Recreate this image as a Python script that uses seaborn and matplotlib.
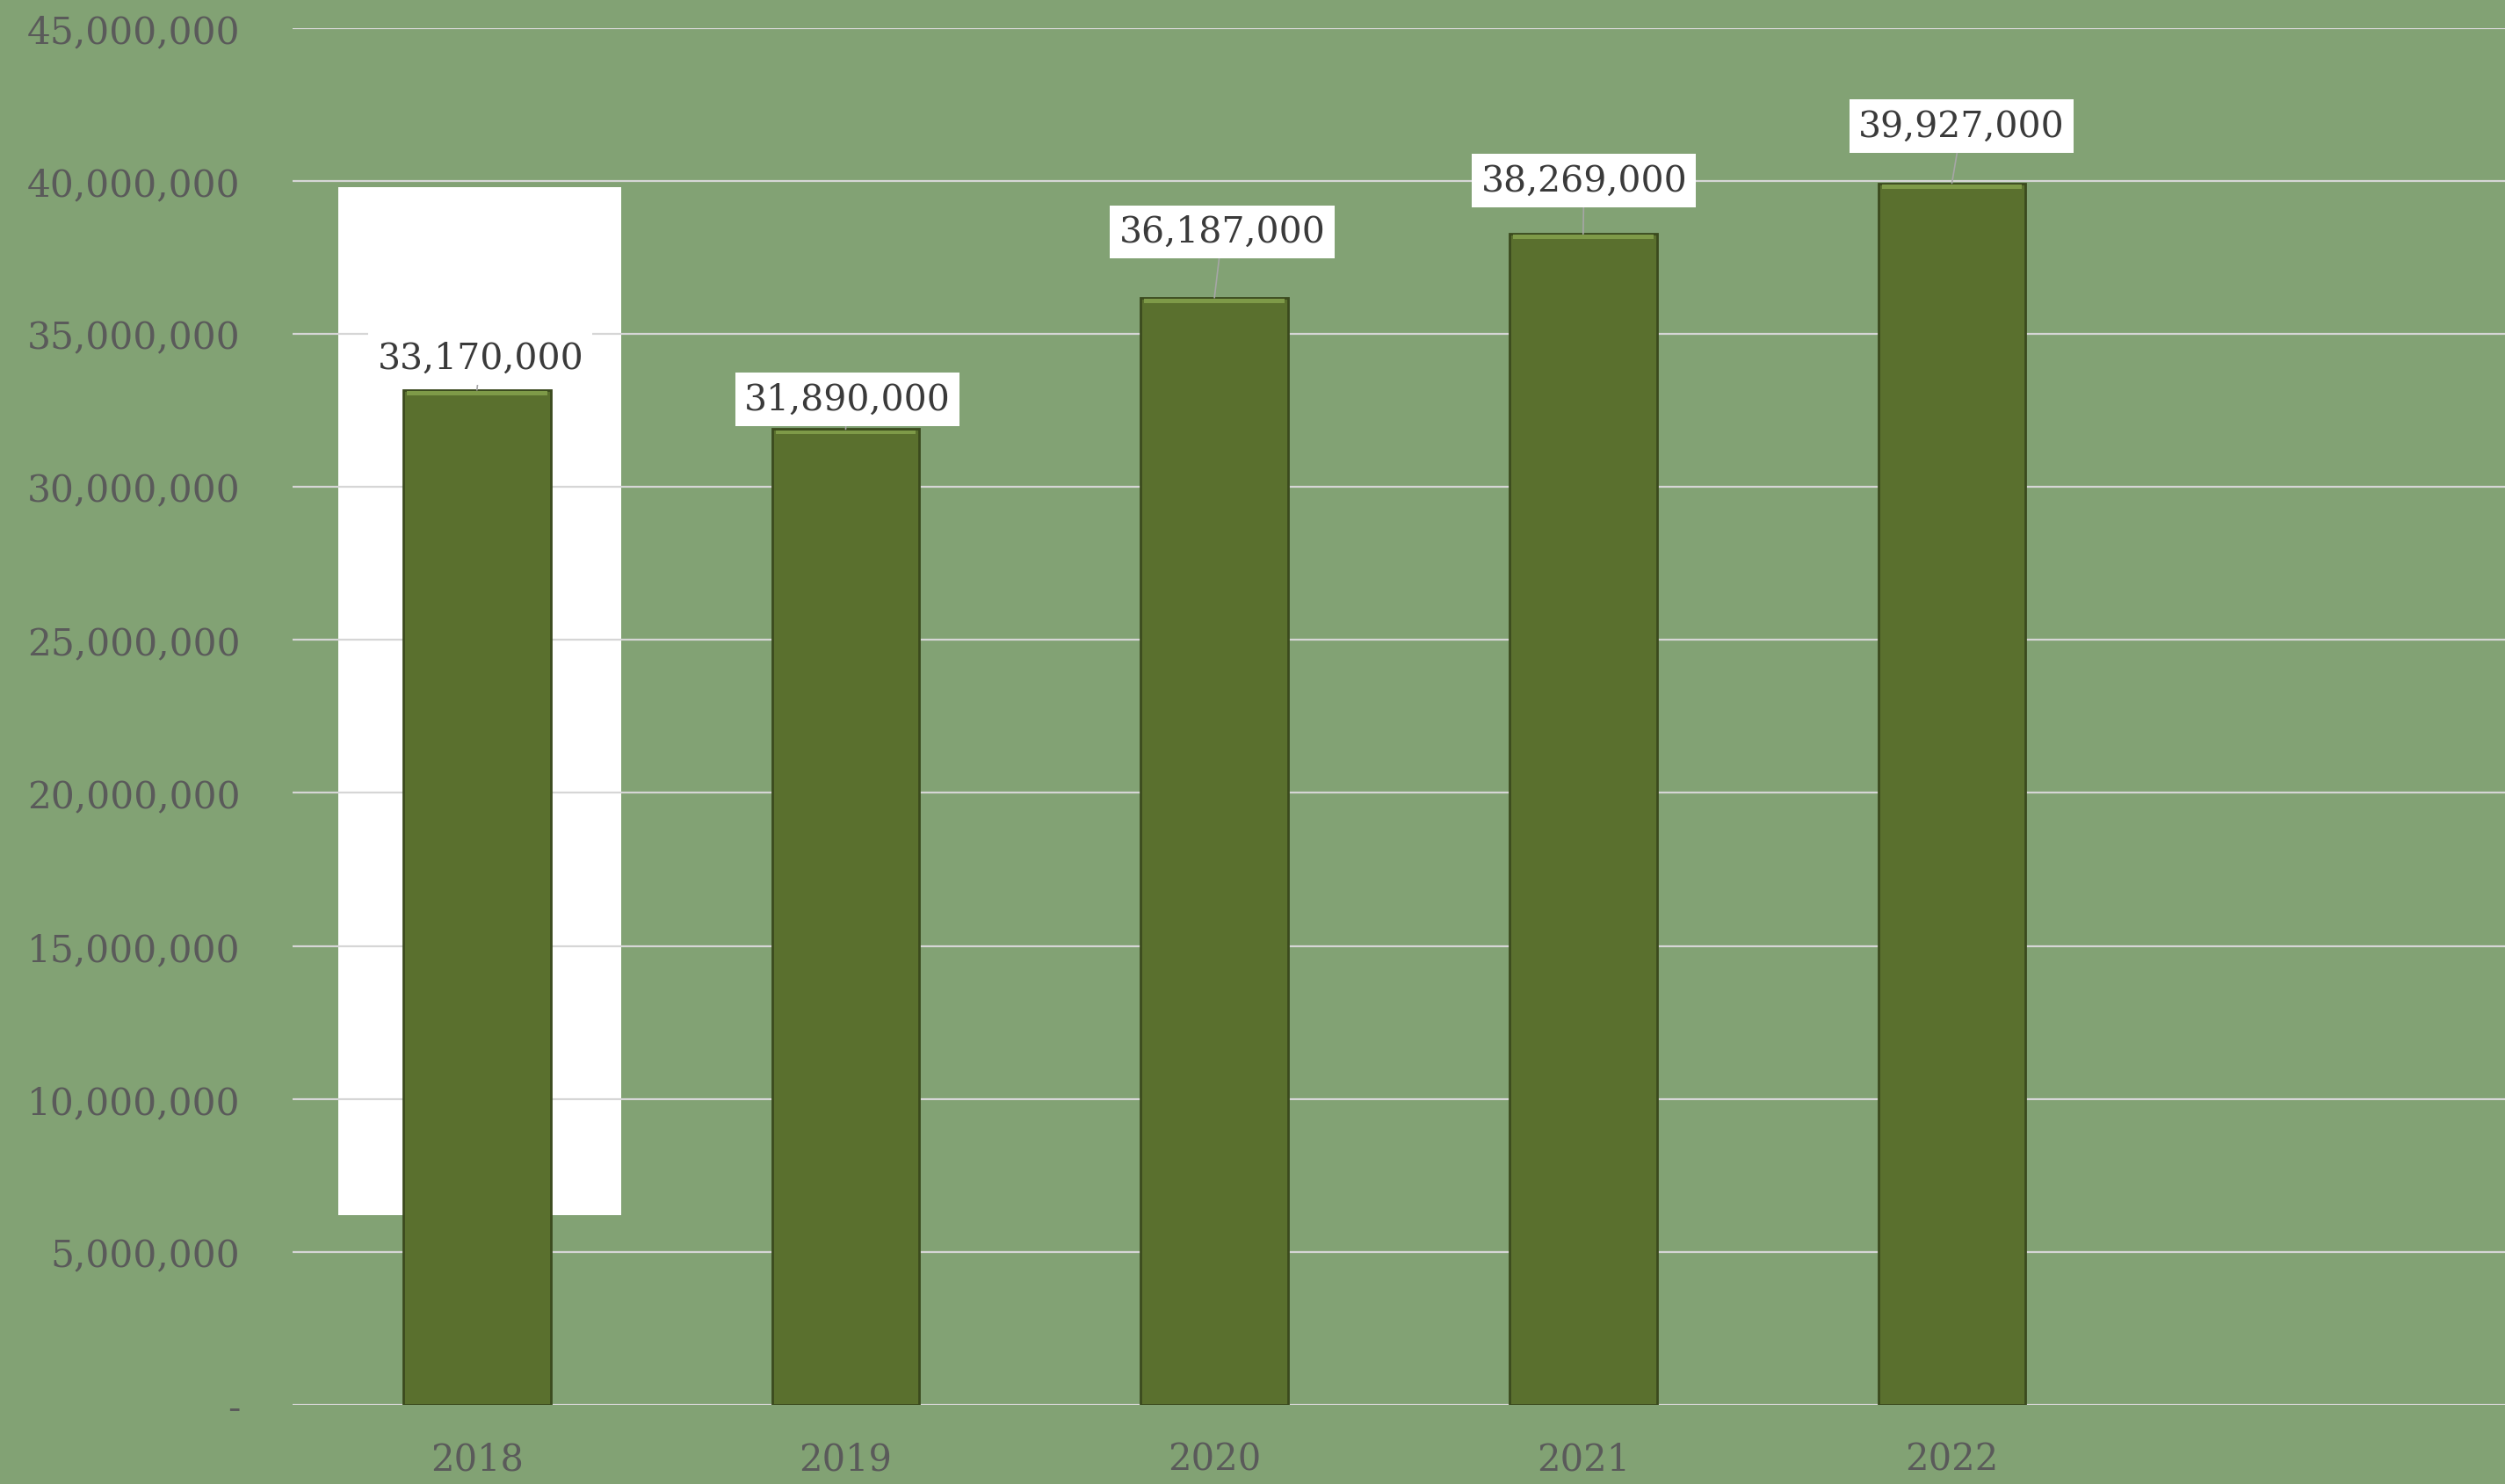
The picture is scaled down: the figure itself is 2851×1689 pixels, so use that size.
import matplotlib
matplotlib.use('Agg')
import matplotlib.pyplot as plt
import matplotlib.ticker as mticker
from matplotlib.patches import Rectangle
import seaborn as sns

# data
years = ['2018', '2019', '2020', '2021', '2022']
values = [33170000, 31890000, 36187000, 38269000, 39927000]

# label box offsets from bar top (pixels)
label_offsets = [(4, 36), (2, 34), (9, 75), (1, 61), (11, 65)]

bg = '#82a274'
bar_color = '#5a702e'

sns.set_theme(style='whitegrid')
plt.rcParams['font.family'] = ['DejaVu Serif', 'Liberation Serif']

fig = plt.figure(figsize=(28.51, 16.90), dpi=100, facecolor=bg)
ax = fig.add_axes([0.1168, 0.0533, 0.8832, 0.9272])
ax.set_facecolor(bg)

sns.barplot(x=years, y=values, color=bar_color, saturation=1, width=0.4,
            edgecolor='#3b4a1e', linewidth=2, ax=ax, zorder=3)

# light bevel on top of each bar
for p in list(ax.patches):
    x0, w, top = p.get_x(), p.get_width(), p.get_height()
    ax.add_patch(Rectangle((x0 + 0.01, top - 170000), w - 0.02, 140000,
                           facecolor='#7e9a48', edgecolor='none', zorder=3.5))

# white block behind first bar
ax.add_patch(Rectangle((-0.375, 6.2e6), 0.765, 33.6e6, facecolor='white',
                       edgecolor='none', zorder=0.4))

ax.set_xlim(-0.5, 5.5)
ax.set_ylim(0, 45000000)
ax.yaxis.set_major_locator(mticker.MultipleLocator(5000000))
ax.yaxis.set_major_formatter(mticker.FuncFormatter(
    lambda v, p: '-' if v == 0 else f'{v:,.0f}'))

ax.set_axisbelow(True)
ax.yaxis.grid(True, color='#d6d6d6', linewidth=1.6)
ax.xaxis.grid(False)
for s in ax.spines.values():
    s.set_visible(False)

ax.tick_params(axis='y', labelsize=30.5, labelcolor='#5a5a5a', length=0, pad=43)
ax.tick_params(axis='x', labelsize=30, labelcolor='#5a5a5a', length=0, pad=29)
ax.set_xlabel('')
ax.set_ylabel('')

for i, v in enumerate(values):
    dx, dy = label_offsets[i]
    ax.annotate(f'{v:,}', xy=(i, v), xytext=(dx, dy), textcoords='offset pixels',
                ha='center', va='center', fontsize=29.5, color='#3a3a3a',
                bbox=dict(boxstyle='square,pad=0.25', fc='white', ec='none'),
                arrowprops=dict(arrowstyle='-', color='#a6a6a6', lw=1.2,
                                shrinkA=0, shrinkB=0),
                zorder=5)

fig.savefig('out.png', dpi=100, facecolor=bg)
